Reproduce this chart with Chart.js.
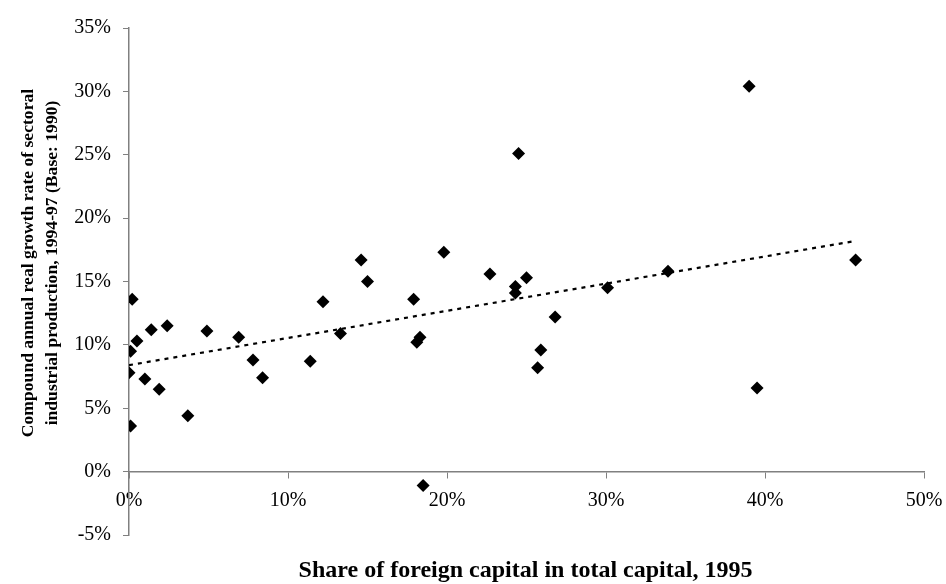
<!DOCTYPE html>
<html>
<head>
<meta charset="utf-8">
<script src="https://cdn.jsdelivr.net/npm/chart.js@4.4.0/dist/chart.umd.min.js"></script>
<style>
  html, body { margin: 0; padding: 0; background: #fff; }
</style>
</head>
<body>
<canvas id="scatterChart" width="946" height="584"></canvas>
<script>
// share of foreign capital (%) vs compound growth rate (%), one point per sector
var shareX = [0.2, 0.1, 0.5, 1.4, 2.4, 0.0, 1.0, 1.9, 3.7, 0.1, 4.9, 6.9, 7.8, 8.4,
              11.4, 12.2, 13.3, 14.6, 15.0, 17.9, 18.1, 18.3, 18.5, 19.8, 22.7, 24.3,
              24.3, 24.5, 25.0, 25.7, 25.9, 26.8, 30.1, 33.9, 39.0, 39.5, 45.7];
var growthY = [13.6, 9.5, 10.3, 11.2, 11.5, 7.8, 7.3, 6.5, 4.4, 3.6, 11.1, 10.6, 8.8, 7.4,
               8.7, 13.4, 10.9, 16.7, 15.0, 13.6, 10.2, 10.6, -1.1, 17.3, 15.6, 14.6,
               14.1, 25.1, 15.3, 8.2, 9.6, 12.2, 14.5, 15.8, 30.4, 6.6, 16.7];

// linear trend line, ends
var trendX = [0, 45.7];
var trendY = [8.4, 18.2];

var xTitle = "Share of foreign capital in total capital, 1995";
var yTitle = ["Compound annual real growth rate of sectoral",
              "industrial production, 1994-97 (Base: 1990)"];

var serif = "'Liberation Serif', 'Times New Roman', serif";

function toPoints(xs, ys) {
  return xs.map(function (x, i) { return {x: x, y: ys[i]}; });
}

var pct = function (v) { return v + '%'; };

// axis titles drawn by hand: the y one sits above the plot's middle and
// the x one is centred under the plot area, not the canvas
var titlesPlugin = {
  id: 'axisTitles',
  afterDraw: function (chart) {
    var c = chart.ctx;
    var area = chart.chartArea;
    c.save();
    c.fillStyle = '#000';
    c.textAlign = 'center';
    c.textBaseline = 'middle';

    c.font = 'bold 24px ' + serif;
    c.fillText(xTitle, (area.left + area.right) / 2 - 1, 571);

    c.font = 'bold 17.6px ' + serif;
    c.translate(0, 263);
    c.rotate(-Math.PI / 2);
    c.fillText(yTitle[0], 0, 28);
    c.fillText(yTitle[1], 0, 52);
    c.restore();
  }
};

var ctx = document.getElementById("scatterChart").getContext("2d");

var chart = new Chart(ctx, {
  type: 'scatter',
  data: {
    datasets: [{
      label: 'Sectors',
      data: toPoints(shareX, growthY),
      pointStyle: 'rectRot',
      pointRadius: 6.5,
      backgroundColor: '#000',
      borderColor: '#000',
      borderWidth: 0
    }, {
      label: 'Trend',
      type: 'line',
      data: toPoints(trendX, trendY),
      borderColor: '#000',
      borderWidth: 2.2,
      borderDash: [4, 5],
      pointRadius: 0,
      fill: false
    }]
  },
  options: {
    responsive: false,
    animation: false,
    layout: {padding: {left: 0, right: 22, top: 28, bottom: 49}},
    plugins: {
      legend: {display: false},
      tooltip: {enabled: false}
    },
    scales: {
      x: {
        type: 'linear',
        position: {y: 0},
        min: 0,
        max: 50,
        ticks: {stepSize: 10, callback: pct, color: '#000',
                font: {family: serif, size: 20}, padding: 11},
        grid: {display: true, drawOnChartArea: false, drawTicks: true,
               tickLength: 6, color: '#808080'},
        border: {color: '#808080', width: 1.5},
        // the "50%" label may run into the right margin
        afterFit: function (scale) { scale.paddingRight = 0; scale.paddingLeft = 0; }
      },
      y: {
        min: -5,
        max: 35,
        ticks: {stepSize: 5, callback: pct, color: '#000',
                font: {family: serif, size: 20}, padding: 12},
        grid: {display: true, drawOnChartArea: false, drawTicks: true,
               tickLength: 6, color: '#808080'},
        border: {color: '#808080', width: 1.5},
        afterFit: function (scale) { scale.width = 129; }
      }
    }
  },
  plugins: [titlesPlugin]
});
</script>
</body>
</html>
